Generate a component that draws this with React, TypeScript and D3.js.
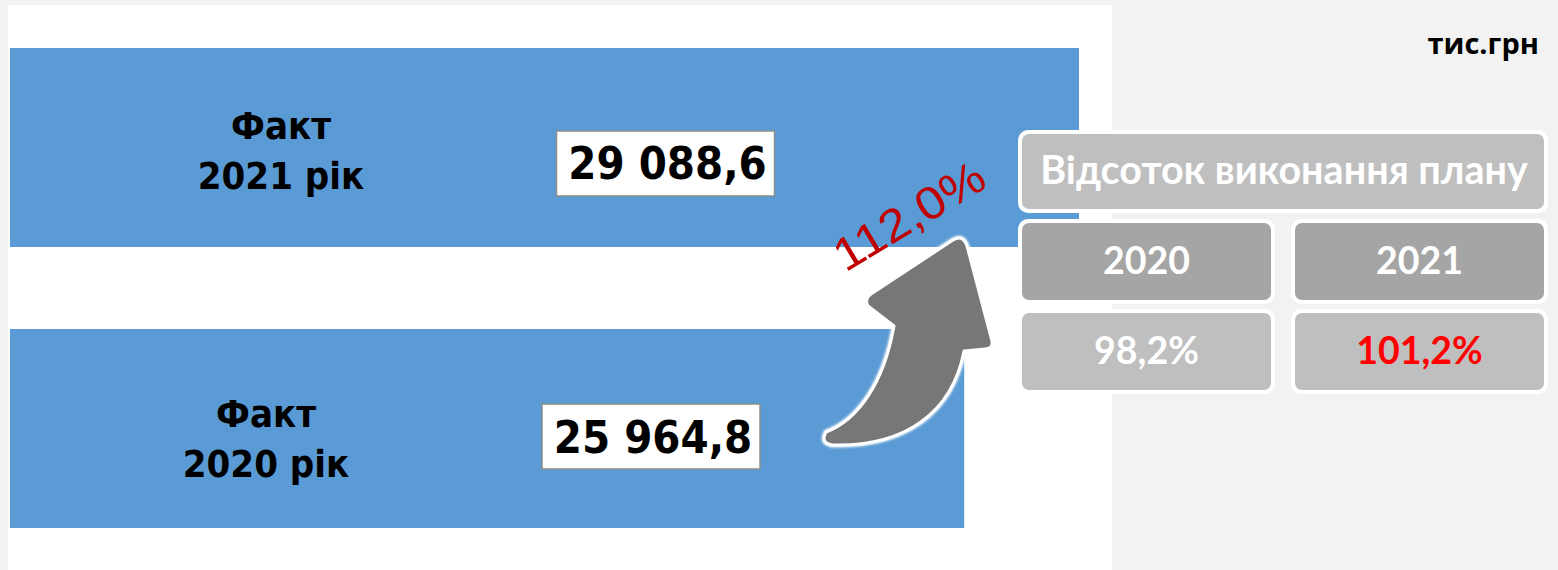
import React from "react";
import * as d3 from "d3";

// ---- data ----
const categories = ["2021", "2020"];
const categoryTitles = ["Факт", "Факт"];
const categorySubtitles = ["2021 рік", "2020 рік"];
const factValues = [29088.6, 25964.8];
const factLabels = ["29 088,6", "25 964,8"];
const growthLabel = "112,0%";
const unitLabel = "тис.грн";
const planTitle = "Відсоток виконання плану";
const planYears = ["2020", "2021"];
const planPercents = ["98,2%", "101,2%"];
const planHighlight = [false, true];

const W = 1558;
const H = 570;

export default function App() {
  const x = d3.scaleLinear().domain([0, d3.max(factValues) as number]).range([10, 1079]);
  const y = d3.scaleBand<string>().domain(categories).range([48, 528]).paddingInner(0.292).paddingOuter(0);
  const bw = y.bandwidth();

  // layout helpers (positions relative to each band)
  const labelCX = [281, 266];
  const labelBase = [[139, 189], [427, 477]];
  const boxCX = [665.5, 651];
  const boxDY = [16, 8];
  const boxW = 218;
  const boxH = 65;

  const arrowPath =
    "M 826,432 C 858,420 884,383 894,326 L 868,306 Q 864,299 871,294 L 953,240 Q 963,234 967,246 L 992,341 Q 993,349 985,349 L 964,351 C 952,413 905,447 832,445 Q 820,443 826,432 Z";

  const panelX = 1018;
  const panelW = 530;
  const colW = 257;
  const colGap = 16;

  const condensed = "'DejaVu Sans Condensed', 'DejaVu Sans', sans-serif";

  return (
    <svg width={W} height={H} style={{ position: "absolute", left: 0, top: 0, display: "block" }}>
      <defs>
        <filter id="glow" x="-20%" y="-20%" width="140%" height="140%">
          <feGaussianBlur in="SourceAlpha" stdDeviation="1.8" result="b" />
          <feFlood floodColor="#ffffff" />
          <feComposite in2="b" operator="in" />
          <feMerge>
            <feMergeNode />
            <feMergeNode />
            <feMergeNode in="SourceGraphic" />
          </feMerge>
        </filter>
      </defs>
      <rect x={0} y={0} width={W} height={H} fill="#f2f2f2" />
      <rect x={8} y={5} width={1104} height={H - 5} fill="#ffffff" />

      {categories.map((c, i) => {
        const y0 = y(c) as number;
        const cy = y0 + bw / 2;
        return (
          <g key={c}>
            <rect x={x(0)} y={y0} width={x(factValues[i]) - x(0)} height={bw} fill="#5b9bd5" />
            <text
              textAnchor="middle"
              fontFamily={condensed}
              fontStretch="condensed"
              fontWeight="bold"
              fontSize={38}
              fill="#000"
            >
              <tspan x={labelCX[i]} y={labelBase[i][0]}>{categoryTitles[i]}</tspan>
              <tspan x={labelCX[i]} y={labelBase[i][1]}>{categorySubtitles[i]}</tspan>
            </text>
            <rect
              x={boxCX[i] - boxW / 2}
              y={cy + boxDY[i] - boxH / 2}
              width={boxW}
              height={boxH}
              fill="#ffffff"
              stroke="#8c8c8c"
              strokeWidth={1.5}
            />
            <text
              x={boxCX[i] + 2}
              y={cy + boxDY[i] + 16}
              textAnchor="middle"
              fontFamily={condensed}
              fontStretch="condensed"
              fontWeight="bold"
              fontSize={45}
              fill="#000"
            >
              {factLabels[i]}
            </text>
          </g>
        );
      })}

      {/* growth arrow */}
      <path d={arrowPath} fill="#777777" stroke="#ffffff" strokeWidth={3} strokeLinejoin="round" filter="url(#glow)" />
      <text
        transform="translate(911,219) rotate(-31)"
        textAnchor="middle"
        dominantBaseline="middle"
        fontFamily="'Liberation Sans', Arial, sans-serif"
        fontSize={46}
        fill="#c00000"
        textLength={168}
        lengthAdjust="spacingAndGlyphs"
      >
        {growthLabel}
      </text>

      {/* unit */}
      <text
        x={1539}
        y={54}
        textAnchor="end"
        fontFamily="'Open Sans', sans-serif"
        fontWeight="bold"
        fontSize={29}
        fill="#000"
      >
        {unitLabel}
      </text>

      {/* plan panel */}
      <rect x={panelX} y={130} width={panelW} height={83} rx={10} fill="#ffffff" />
      <rect x={panelX + 4} y={134} width={panelW - 8} height={75} rx={7} fill="#bfbfbf" />
      <text
        x={panelX + panelW / 2 + 1}
        y={184}
        textAnchor="middle"
        fontFamily="Lato, sans-serif"
        fontWeight="bold"
        fontSize={39.5}
        fill="#ffffff"
      >
        {planTitle}
      </text>

      {planYears.map((yr, j) => {
        const cx0 = panelX + j * (colW + colGap);
        return (
          <g key={yr}>
            <rect x={cx0} y={219} width={colW} height={85} rx={10} fill="#ffffff" />
            <rect x={cx0 + 4} y={223} width={colW - 8} height={77} rx={7} fill="#a5a5a5" />
            <text
              x={cx0 + colW / 2}
              y={274}
              textAnchor="middle"
              fontFamily="Lato, sans-serif"
              fontWeight="bold"
              fontSize={37.5}
              fill="#ffffff"
            >
              {yr}
            </text>
            <rect x={cx0} y={309} width={colW} height={85} rx={10} fill="#ffffff" />
            <rect x={cx0 + 4} y={313} width={colW - 8} height={77} rx={7} fill="#bfbfbf" />
            <text
              x={cx0 + colW / 2}
              y={364}
              textAnchor="middle"
              fontFamily="Lato, sans-serif"
              fontWeight="bold"
              fontSize={37.5}
              fill={planHighlight[j] ? "#ff0000" : "#ffffff"}
            >
              {planPercents[j]}
            </text>
          </g>
        );
      })}
    </svg>
  );
}
